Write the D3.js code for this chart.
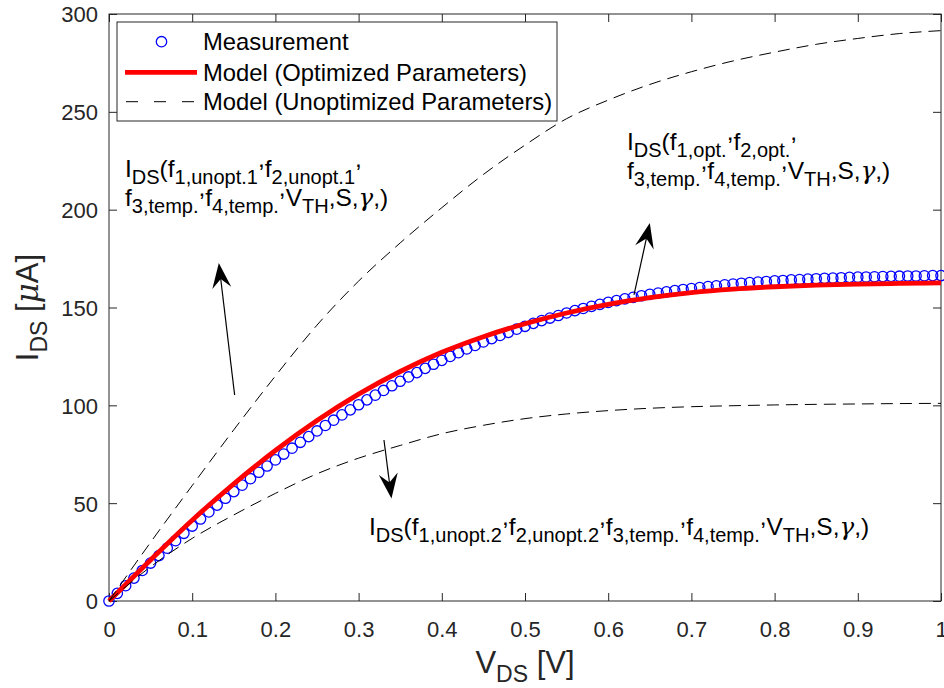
<!DOCTYPE html>
<html>
<head>
<meta charset="utf-8">
<script src="https://cdn.jsdelivr.net/npm/d3@7"></script>
<style>
  body { margin: 0; background: #fff; }
  svg { display: block; font-family: "Liberation Sans", Arial, Helvetica, sans-serif; }
  text { white-space: pre; }
</style>
</head>
<body>
<svg id="chart" width="944" height="688"></svg>
<script>
// measured I_DS [uA], sweep 0..1 V in 0.01 V steps
const measI = [0, 3.9, 7.8, 11.7, 15.6, 19.4, 23.2, 27.0, 30.8, 34.6, 38.3,
  41.9, 45.5, 49.0, 52.5, 55.9, 59.2, 62.5, 65.8, 69.0, 72.1,
  75.1, 78.1, 81.1, 84.0, 86.9, 89.7, 92.4, 95.1, 97.7, 100.3,
  102.8, 105.2, 107.6, 110.0, 112.3, 114.5, 116.7, 118.9, 121.0, 123.0,
  125.0, 126.9, 128.8, 130.6, 132.4, 134.1, 135.7, 137.3, 138.9, 140.4,
  141.9, 143.3, 144.6, 145.9, 147.2, 148.4, 149.5, 150.6, 151.6, 152.6,
  153.5, 154.4, 155.2, 156.0, 156.7, 157.4, 158.0, 158.6, 159.2, 159.7,
  160.2, 160.7, 161.1, 161.6, 162.0, 162.4, 162.7, 163.0, 163.3, 163.6,
  163.8, 164.1, 164.3, 164.5, 164.7, 164.9, 165.0, 165.2, 165.4, 165.5,
  165.6, 165.7, 165.8, 165.9, 166.0, 166.1, 166.1, 166.2, 166.3, 166.3];
const measV = d3.range(measI.length).map(i => i / 100);

// model curves, 0.05 V steps
const modelV = [0, 0.05, 0.1, 0.15, 0.2, 0.25, 0.3, 0.35, 0.4, 0.45, 0.5,
  0.55, 0.6, 0.65, 0.7, 0.75, 0.8, 0.85, 0.9, 0.95, 1];
const optI = [0, 21, 41.3, 59.9, 76.9, 92.2, 105.7, 117.3, 127.1, 135.1, 141.7,
  147.2, 151.6, 155.0, 157.6, 159.4, 160.6, 161.4, 161.9, 162.3, 162.6];
const unopt1I = [0, 30, 59, 87.5, 115, 141, 163.5, 183, 201, 218, 233,
  246.5, 256, 264, 270.5, 276, 280.5, 284.5, 287.5, 290, 291.5];
const unopt2I = [0, 17.5, 32, 44, 55, 65, 73, 79.5, 85.5, 89.8, 93.2,
  95.6, 97.3, 98.5, 99.3, 99.8, 100.2, 100.5, 100.7, 100.9, 101];

const xTicks = [0, 0.1, 0.2, 0.3, 0.4, 0.5, 0.6, 0.7, 0.8, 0.9, 1];
const yTicks = [0, 50, 100, 150, 200, 250, 300];

const legendLabels = ["Measurement", "Model (Optimized Parameters)", "Model (Unoptimized Parameters)"];

// arrows: [tailV, tailI, tipV, tipI]
const arrows = [
  [0.151, 105.3, 0.132, 172.7],
  [0.631, 156.4, 0.650, 193.2],
  [0.3305, 82.3, 0.3395, 52.4]
];

// annotation text: anchor (V, I) and segments (b subscript, p raised, g greek)
const annotations = [
  { v: 0.0192, i: 216.8, lines: [
    [["I"], ["DS", "b"], ["(f"], ["1,unopt.1", "b"], [",", "p"], ["f"], ["2,unopt.1", "b"], [",", "p"]],
    [["f"], ["3,temp.", "b"], [",", "p"], ["f"], ["4,temp.", "b"], [",", "p"], ["V"], ["TH", "b"], [",S,"], ["γ", "g"], [",)"]]
  ]},
  { v: 0.6226, i: 230.5, lines: [
    [["I"], ["DS", "b"], ["(f"], ["1,opt.", "b"], [",", "p"], ["f"], ["2,opt.", "b"], [",", "p"]],
    [["f"], ["3,temp.", "b"], [",", "p"], ["f"], ["4,temp.", "b"], [",", "p"], ["V"], ["TH", "b"], [",S,"], ["γ", "g"], [",)"]]
  ]},
  { v: 0.3125, i: 33.7, lines: [
    [["I"], ["DS", "b"], ["(f"], ["1,unopt.2", "b"], [",", "p"], ["f"], ["2,unopt.2", "b"], [",", "p"], ["f"], ["3,temp.", "b"], [",", "p"], ["f"], ["4,temp.", "b"], [",", "p"], ["V"], ["TH", "b"], [",S,"], ["γ", "g"], [",)"]]
  ]}
];

const svg = d3.select("#chart");
const mLeft = 109, mRight = 941, mTop = 14, mBottom = 601;
const axisColor = "#262626";

const x = d3.scaleLinear().domain([0, 1]).range([mLeft, mRight]);
const y = d3.scaleLinear().domain([0, 300]).range([mBottom, mTop]);

// writes a line of TeX-like text with tspans
function richText(g, px, py, segs, size, subSize) {
  const t = g.append("text").attr("x", px).attr("y", py).attr("font-size", size).attr("fill", "#000");
  let prev = 0;
  segs.forEach(([s, kind]) => {
    let off = 0, fs = size, italic = false;
    if (kind === "b") { off = size * 0.3; fs = subSize; }
    if (kind === "p") { off = -size * 0.4; }
    if (kind === "g") { italic = true; }
    const sp = t.append("tspan").attr("dy", off - prev).attr("font-size", fs).text(s);
    if (italic) sp.attr("font-style", "italic").attr("font-family", "DejaVu Serif, serif");
    prev = off;
  });
  return t;
}

// axes
const tick = 8;
svg.append("g").attr("transform", `translate(0,${mBottom})`)
  .call(d3.axisBottom(x).tickValues(xTicks).tickFormat(d3.format("~g")).tickSizeInner(-tick).tickSizeOuter(0))
  .call(g => g.select(".domain").remove())
  .call(g => g.selectAll("line").attr("stroke", axisColor))
  .call(g => g.selectAll("text").attr("y", 36).attr("dy", 0).attr("font-size", 22)
    .attr("font-family", "Liberation Sans, Arial, sans-serif").attr("fill", axisColor));

svg.append("g").attr("transform", `translate(0,${mTop})`)
  .call(d3.axisTop(x).tickValues(xTicks).tickFormat("").tickSizeInner(-tick).tickSizeOuter(0))
  .call(g => g.select(".domain").remove())
  .call(g => g.selectAll("line").attr("stroke", axisColor));

svg.append("g").attr("transform", `translate(${mLeft},0)`)
  .call(d3.axisLeft(y).tickValues(yTicks).tickSizeInner(-tick).tickSizeOuter(0).tickPadding(11))
  .call(g => g.select(".domain").remove())
  .call(g => g.selectAll("line").attr("stroke", axisColor))
  .call(g => g.selectAll("text").attr("font-size", 22).attr("dy", "0.36em")
    .attr("font-family", "Liberation Sans, Arial, sans-serif").attr("fill", axisColor));

svg.append("g").attr("transform", `translate(${mRight},0)`)
  .call(d3.axisRight(y).tickValues(yTicks).tickFormat("").tickSizeInner(-tick).tickSizeOuter(0))
  .call(g => g.select(".domain").remove())
  .call(g => g.selectAll("line").attr("stroke", axisColor));

svg.append("rect")
  .attr("x", mLeft).attr("y", mTop).attr("width", mRight - mLeft).attr("height", mBottom - mTop)
  .attr("fill", "none").attr("stroke", axisColor).attr("stroke-width", 1);

// axis titles
const xt = svg.append("text").attr("x", x(0.5)).attr("y", 673).attr("text-anchor", "middle")
  .attr("font-size", 31).attr("fill", axisColor);
xt.append("tspan").text("V");
xt.append("tspan").attr("dy", 9).attr("font-size", 23).text("DS");
xt.append("tspan").attr("dy", -9).text(" [V]");

const yt = svg.append("text").attr("transform", `translate(38,${(mTop + mBottom) / 2}) rotate(-90)`)
  .attr("text-anchor", "middle").attr("font-size", 31).attr("fill", axisColor);
yt.append("tspan").text("I");
yt.append("tspan").attr("dy", 9).attr("font-size", 23).text("DS");
yt.append("tspan").attr("dy", -9).text(" [");
yt.append("tspan").attr("font-style", "italic").attr("font-family", "DejaVu Serif, serif").text("μ");
yt.append("tspan").text("A]");

// data
const plot = svg.append("g");

plot.selectAll("circle.meas")
  .data(measV.map((v, i) => [v, measI[i]]))
  .join("circle")
  .attr("class", "meas")
  .attr("cx", d => x(d[0])).attr("cy", d => y(d[1]))
  .attr("r", 5.2)
  .attr("fill", "none").attr("stroke", "#0000ff").attr("stroke-width", 1.3);

const line = d3.line().x(d => x(d[0])).y(d => y(d[1])).curve(d3.curveMonotoneX);

plot.append("path")
  .datum(modelV.map((v, i) => [v, optI[i]]))
  .attr("d", line).attr("fill", "none").attr("stroke", "#ff0000").attr("stroke-width", 4.8);

[unopt1I, unopt2I].forEach(series => {
  plot.append("path")
    .datum(modelV.map((v, i) => [v, series[i]]))
    .attr("d", line).attr("fill", "none").attr("stroke", "#000").attr("stroke-width", 1)
    .attr("stroke-dasharray", "12,7");
});

// arrows
arrows.forEach(([v0, i0, v1, i1]) => {
  const x0 = x(v0), y0 = y(i0), x1 = x(v1), y1 = y(i1);
  const len = Math.hypot(x1 - x0, y1 - y0);
  const ux = (x1 - x0) / len, uy = (y1 - y0) / len;
  const nx = -uy, ny = ux;
  const L = 25, W = 9.5, notch = 9;
  svg.append("line").attr("x1", x0).attr("y1", y0).attr("x2", x1 - ux * 10).attr("y2", y1 - uy * 10)
    .attr("stroke", "#000").attr("stroke-width", 1.2);
  const pts = [
    [x1, y1],
    [x1 - ux * L + nx * W, y1 - uy * L + ny * W],
    [x1 - ux * (L - notch), y1 - uy * (L - notch)],
    [x1 - ux * L - nx * W, y1 - uy * L - ny * W]
  ];
  svg.append("polygon").attr("points", pts.map(p => p.join(",")).join(" ")).attr("fill", "#000");
});

// annotation texts
annotations.forEach(a => {
  a.lines.forEach((segs, k) => {
    richText(svg, x(a.v), y(a.i) + k * 29, segs, 24.5, 20);
  });
});

// legend
const lg = svg.append("g");
lg.append("rect").attr("x", 117).attr("y", 22).attr("width", 440).attr("height", 99)
  .attr("fill", "#fff").attr("stroke", axisColor).attr("stroke-width", 1);
const rowY = [41.7, 72.3, 101.7];
lg.append("circle").attr("cx", 161.5).attr("cy", rowY[0]).attr("r", 5.2)
  .attr("fill", "none").attr("stroke", "#0000ff").attr("stroke-width", 1.3);
lg.append("line").attr("x1", 125).attr("x2", 197).attr("y1", rowY[1]).attr("y2", rowY[1])
  .attr("stroke", "#ff0000").attr("stroke-width", 4.8);
lg.append("line").attr("x1", 126).attr("x2", 197).attr("y1", rowY[2]).attr("y2", rowY[2])
  .attr("stroke", "#000").attr("stroke-width", 1).attr("stroke-dasharray", "12,16");
lg.selectAll("text.lab").data(legendLabels).join("text")
  .attr("class", "lab")
  .attr("x", 203).attr("y", (d, i) => rowY[i] + 8.5)
  .attr("font-size", 23.8).attr("fill", "#000").text(d => d);
</script>
</body>
</html>
